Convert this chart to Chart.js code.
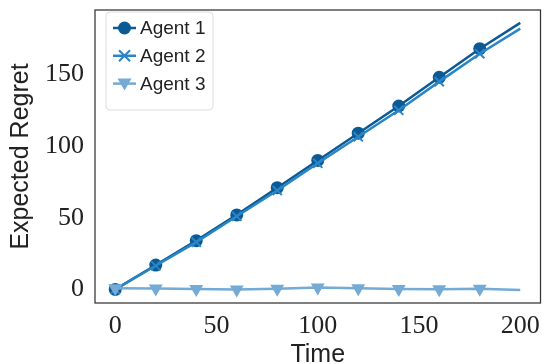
<!DOCTYPE html>
<html lang="en">
<head>
    <meta charset="UTF-8">
    <title>Expected Regret</title>
    <script src="https://cdn.jsdelivr.net/npm/chart.js"></script>
    <style>
        html, body { margin: 0; padding: 0; background: #fff; }
        canvas { display: block; }
    </style>
</head>
<body>
    <canvas id="regret" width="549" height="364"></canvas>
    <script>
        // valores
        const times = [0, 20, 40, 60, 80, 100, 120, 140, 160, 180, 200];
        const agent1 = [0, 17, 34, 52, 71, 90, 109, 128, 148, 168, 186];
        const agent2 = [0, 16.5, 33, 51, 69, 88, 106.5, 125, 145, 164.5, 182];
        const agent3 = [0.8, 0.6, 0.3, -0.1, 0.4, 1.3, 0.8, 0.2, 0.1, 0.4, -0.5];
        const xTicks = [0, 50, 100, 150, 200];
        const yTicks = [0, 50, 100, 150];
        const labels = ['Agent 1', 'Agent 2', 'Agent 3'];

        const sans = '"Liberation Sans", Arial, sans-serif';
        const serif = '"Liberation Serif", "Times New Roman", serif';
        const radii = times.map((t, i) => i === times.length - 1 ? 0 : 6.5);

        function pts(vals) {
            return times.map((t, i) => ({ x: t, y: vals[i] }));
        }

        function marker(ctx, style, x, y, color) {
            ctx.save();
            ctx.fillStyle = color;
            ctx.strokeStyle = color;
            ctx.lineWidth = 2;
            ctx.beginPath();
            if (style === 'circle') {
                ctx.arc(x, y, 6.5, 0, Math.PI * 2);
                ctx.fill();
            } else if (style === 'crossRot') {
                ctx.moveTo(x - 5.5, y - 5.5); ctx.lineTo(x + 5.5, y + 5.5);
                ctx.moveTo(x - 5.5, y + 5.5); ctx.lineTo(x + 5.5, y - 5.5);
                ctx.stroke();
            } else {
                ctx.moveTo(x - 7, y - 5);
                ctx.lineTo(x + 7, y - 5);
                ctx.lineTo(x, y + 7);
                ctx.closePath();
                ctx.fill();
            }
            ctx.restore();
        }

        // moldura e legenda
        const moldura = {
            id: 'moldura',
            afterDraw(chart) {
                const ctx = chart.ctx;
                const a = chart.chartArea;
                ctx.save();
                ctx.strokeStyle = '#333';
                ctx.lineWidth = 1.25;
                ctx.strokeRect(a.left, a.top, a.right - a.left, a.bottom - a.top);

                const bx = a.left + 11, by = a.top + 2, bw = 107, bh = 98;
                ctx.beginPath();
                ctx.roundRect(bx, by, bw, bh, 4);
                ctx.fillStyle = 'rgba(255,255,255,0.85)';
                ctx.fill();
                ctx.strokeStyle = '#dcdcdc';
                ctx.lineWidth = 1;
                ctx.stroke();

                chart.data.datasets.forEach((ds, i) => {
                    const y = by + 16 + i * 27.8;
                    ctx.strokeStyle = ds.borderColor;
                    ctx.lineWidth = 2.5;
                    ctx.beginPath();
                    ctx.moveTo(bx + 7, y);
                    ctx.lineTo(bx + 30, y);
                    ctx.stroke();
                    marker(ctx, ds.legendStyle, bx + 18.5, y, ds.borderColor);
                    ctx.fillStyle = '#222';
                    ctx.font = '19px ' + sans;
                    ctx.textBaseline = 'middle';
                    ctx.fillText(ds.label, bx + 34, y + 1);
                });
                ctx.restore();
            }
        };

        new Chart(document.getElementById('regret'), {
            type: 'line',
            data: {
                datasets: [
                    {
                        label: labels[0], data: pts(agent1), legendStyle: 'circle',
                        borderColor: '#0b5a96', backgroundColor: '#0b5a96',
                        borderWidth: 2.5, pointStyle: 'circle', pointRadius: radii,
                        pointBorderWidth: 0, order: 3
                    },
                    {
                        label: labels[1], data: pts(agent2), legendStyle: 'crossRot',
                        borderColor: '#2a85c4', backgroundColor: '#2a85c4',
                        borderWidth: 2.5, pointStyle: 'crossRot', pointRadius: radii,
                        pointBorderWidth: 2, order: 2
                    },
                    {
                        label: labels[2], data: pts(agent3), legendStyle: 'triangle',
                        borderColor: '#73aad6', backgroundColor: '#73aad6',
                        borderWidth: 2.5, pointStyle: 'triangle', pointRotation: 180,
                        pointRadius: times.map((t, i) => i === times.length - 1 ? 0 : 8),
                        pointBorderWidth: 0, order: 1
                    }
                ]
            },
            options: {
                responsive: false,
                animation: false,
                devicePixelRatio: 1,
                layout: { padding: { top: 10, right: 1, left: 0, bottom: 0 } },
                plugins: { legend: { display: false }, tooltip: { enabled: false } },
                scales: {
                    x: {
                        type: 'linear', min: -10, max: 210,
                        grid: { display: false, drawTicks: false },
                        border: { display: false },
                        afterBuildTicks: s => { s.ticks = xTicks.map(v => ({ value: v })); },
                        afterFit: s => { s.height = 61; s.paddingLeft = 0; s.paddingRight = 0; },
                        ticks: { color: '#222', font: { family: serif, size: 26 }, padding: 8, maxRotation: 0 },
                        title: {
                            display: true, text: 'Time', color: '#222',
                            font: { family: sans, size: 25, lineHeight: 1 },
                            padding: { top: 0, bottom: -4 }
                        }
                    },
                    y: {
                        type: 'linear', min: -9.5, max: 195,
                        grid: { display: false, drawTicks: false },
                        border: { display: false },
                        afterBuildTicks: s => { s.ticks = yTicks.map(v => ({ value: v })); },
                        afterFit: s => { s.width = 95; s.paddingTop = 0; s.paddingBottom = 0; },
                        ticks: { color: '#222', font: { family: serif, size: 26 }, padding: 11 },
                        title: {
                            display: true, text: 'Expected Regret', color: '#222',
                            font: { family: sans, size: 25, lineHeight: 1 },
                            padding: { top: 9, bottom: 0 }
                        }
                    }
                }
            },
            plugins: [moldura]
        });
    </script>
</body>
</html>
